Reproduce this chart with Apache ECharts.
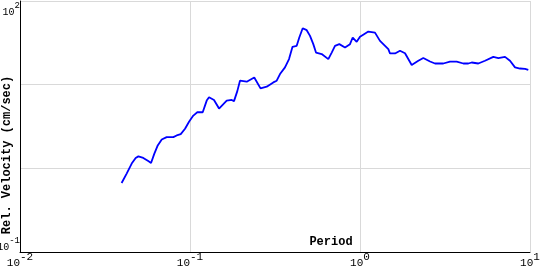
<!DOCTYPE html>
<html>
<head>
<meta charset="utf-8">
<script src="https://cdn.jsdelivr.net/npm/echarts@6/dist/echarts.min.js"></script>
<style>html,body{margin:0;padding:0;background:#fff}#c{width:540px;height:270px}</style>
</head>
<body>
<div id="c"></div>
<script>
const periods = [0.0396,0.0424,0.0454,0.0479,0.0497,0.0531,0.0568,0.0590,0.0617,0.0646,0.0682,0.0729,0.0798,0.0835,0.0882,0.0935,0.0987,0.1046,0.1104,0.1188,0.1254,0.1294,0.1384,0.1482,0.1644,0.1759,0.1815,0.1898,0.1968,0.2156,0.2388,0.2599,0.2827,0.309,0.3236,0.3384,0.3621,0.3824,0.4009,0.4243,0.4394,0.4602,0.4859,0.5081,0.5312,0.5510,0.5952,0.6510,0.6817,0.7128,0.7557,0.8161,0.8733,0.9060,0.9563,1.0,1.056,1.119,1.225,1.311,1.468,1.501,1.607,1.719,1.840,2.014,2.203,2.357,2.582,2.762,3.090,3.384,3.706,4.053,4.336,4.541,4.965,5.437,6.084,6.510,7.128,7.627,8.164,8.734,9.346,9.772];
const velocities = [0.668,0.865,1.14,1.33,1.39,1.33,1.22,1.16,1.50,1.88,2.21,2.36,2.36,2.47,2.56,2.97,3.60,4.27,4.68,4.68,6.45,7.06,6.57,5.18,6.45,6.57,6.36,8.37,11.15,10.85,12.2,9.03,9.46,10.65,11.15,13.4,16.1,20.2,28.3,29.1,36.6,47.3,44.8,38.3,30.5,24.2,23.2,20.2,24.2,29.1,30.5,27.8,30.5,36.6,32.5,37.3,40.1,43.1,41.9,33.4,26.6,23.6,23.6,25.4,23.7,17.2,19.3,20.8,18.9,17.9,17.9,18.9,18.9,17.9,17.9,18.4,17.9,19.3,21.5,20.8,21.5,19.3,16.1,15.6,15.4,15.0];
const xTickExps = [-2,-1,0,1];
const yTickExps = [-1,2];
const yTitle = 'Rel. Velocity (cm/sec)';
const xTitle = 'Period';

const chart = echarts.init(document.getElementById('c'), null, {renderer:'canvas'});
const font = '"Liberation Mono", "DejaVu Sans Mono", monospace';
function expLabel(v, allowed){
  const e = Math.round(Math.log10(v));
  if (allowed.indexOf(e) < 0) return '';
  return '{b|10}{s|' + e + '}';
}
const richX = {
  b:{fontFamily:font,fontSize:11,color:'#000',lineHeight:17,verticalAlign:'bottom'},
  s:{fontFamily:font,fontSize:11,color:'#000',verticalAlign:'top'}
};
const richY = {
  b:{fontFamily:font,fontSize:10,color:'#000',lineHeight:16,verticalAlign:'bottom'},
  s:{fontFamily:font,fontSize:9,color:'#000',verticalAlign:'top'}
};
chart.setOption({
  animation:false,
  backgroundColor:'#fff',
  grid:{left:20,right:10,top:1,bottom:18,containLabel:false,outerBoundsMode:'none'},
  xAxis:{
    type:'log',logBase:10,min:0.01,max:10,
    axisLine:{show:true,onZero:false,lineStyle:{color:'#000',width:1}},
    axisTick:{show:false},
    splitLine:{show:true,lineStyle:{color:'#d9d9d9',width:1}},
    minorTick:{show:false},
    axisLabel:{margin:0,formatter:v=>expLabel(v,xTickExps),rich:richX,showMinLabel:true,showMaxLabel:true}
  },
  yAxis:{
    type:'log',logBase:10,min:0.1,max:100,
    axisLine:{show:true,onZero:false,lineStyle:{color:'#000',width:1}},
    axisTick:{show:false},
    splitLine:{show:true,lineStyle:{color:'#d9d9d9',width:1}},
    axisLabel:{margin:0,formatter:v=>expLabel(v,yTickExps),rich:richY,showMinLabel:true,showMaxLabel:true,
      verticalAlignMinLabel:'bottom',verticalAlignMaxLabel:'top'}
  },
  graphic:[
    {type:'text',x:7,y:155,rotation:Math.PI/2,style:{text:yTitle,font:'bold 12px '+font,fill:'#000',align:'center',verticalAlign:'middle'}},
    {type:'text',x:331,y:242,style:{text:xTitle,font:'bold 12px '+font,fill:'#000',align:'center',verticalAlign:'middle'}}
  ],
  series:[{
    type:'line',
    data:periods.map((p,i)=>[p,velocities[i]]),
    showSymbol:false,
    lineStyle:{color:'#0000ff',width:1.8},
    itemStyle:{color:'#0000ff'}
  }]
});
</script>
</body>
</html>
